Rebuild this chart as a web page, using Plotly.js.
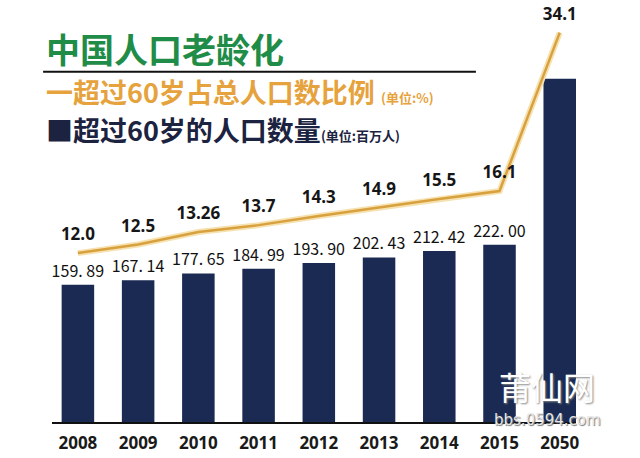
<!DOCTYPE html>
<html>
<head>
<meta charset="utf-8">
<script src="https://cdn.plot.ly/plotly-3.0.1.min.js"></script>
<style>
  html, body { margin: 0; padding: 0; background: #fff; }
  #chart { width: 640px; height: 458px; }
</style>
</head>
<body>
<div id="chart"></div>
<script>
// years on the x axis
const years = ['2008', '2009', '2010', '2011', '2012', '2013', '2014', '2015', '2050'];
// people over 60, millions (2050 has no printed label)
const popOver60 = [159.89, 167.14, 177.65, 184.99, 193.90, 202.43, 212.42, 222.00, 480];
const popLabels = ['159. 89', '167. 14', '177. 65', '184. 99', '193. 90', '202. 43', '212. 42', '222. 00', ''];
// share of total population, %
const shareOver60 = [12.0, 12.5, 13.26, 13.7, 14.3, 14.9, 15.5, 16.1, 34.1];
const shareLabels = ['12.0', '12.5', '13.26', '13.7', '14.3', '14.9', '15.5', '16.1', '34.1'];

// the infographic bars do not start at zero
const BAR_FLOOR = -53.1;

const NAVY = '#1a2a52';
const GOLD = '#d9a03e';

const bars = {
  type: 'bar',
  x: years,
  y: popOver60.map(v => v - BAR_FLOOR),
  base: BAR_FLOOR,
  marker: { color: NAVY },
  width: 0.54,
  text: popLabels,
  textposition: 'outside',
  constraintext: 'none',
  cliponaxis: false,
  textfont: { family: 'Noto Sans CJK SC, Noto Sans, sans-serif', size: 16, color: '#111' },
  hoverinfo: 'skip',
  showlegend: false
};

const glow = {
  type: 'scatter',
  x: years,
  y: shareOver60,
  yaxis: 'y2',
  mode: 'lines',
  line: { color: '#f5e2b0', width: 6 },
  hoverinfo: 'skip',
  showlegend: false
};

const shareLine = {
  type: 'scatter',
  x: years,
  y: shareOver60,
  yaxis: 'y2',
  mode: 'lines+markers+text',
  line: { color: GOLD, width: 2.5 },
  marker: { size: 12, color: 'rgba(0,0,0,0)' },
  text: shareLabels,
  textposition: 'top center',
  textfont: { family: 'Open Sans, sans-serif', size: 17, weight: 'bold', color: '#161616' },
  cliponaxis: false,
  showlegend: false
};

const cjk = 'Noto Sans CJK SC, sans-serif';

const layout = {
  width: 640,
  height: 458,
  margin: { l: 52, r: 64, t: 20, b: 36 },
  paper_bgcolor: '#fff',
  plot_bgcolor: '#fff',
  bargap: 0.46,
  xaxis: {
    type: 'category',
    range: [-0.43, 8.27],
    showline: true,
    linecolor: '#111',
    linewidth: 2,
    ticks: '',
    ticklabelstandoff: 5,
    tickfont: { family: 'Open Sans, sans-serif', size: 17, weight: 'bold', color: '#1a1a1a' },
    showgrid: false,
    zeroline: false,
    fixedrange: true
  },
  yaxis: {
    range: [BAR_FLOOR, 571.1],
    visible: false,
    showgrid: false,
    zeroline: false
  },
  yaxis2: {
    type: 'log',
    range: [0.7318, 1.5586],
    overlaying: 'y',
    visible: false,
    showgrid: false,
    zeroline: false
  },
  shapes: [
    {
      type: 'line', xref: 'paper', yref: 'paper',
      x0: -0.017, x1: 0.809, y0: 0.871, y1: 0.871,
      line: { color: '#111', width: 2 }
    }
  ],
  annotations: [
    {
      text: '中国人口老龄化',
      xref: 'paper', yref: 'paper', x: -0.016, y: 0.929,
      xanchor: 'left', yanchor: 'middle', showarrow: false,
      font: { family: cjk, size: 34, weight: 'bold', color: '#1f8c48' }
    },
    {
      text: '一超过60岁占总人口数比例 <span style="font-size:13px">(单位:%)</span>',
      xref: 'paper', yref: 'paper', x: -0.016, y: 0.821,
      xanchor: 'left', yanchor: 'middle', showarrow: false,
      font: { family: cjk, size: 27, weight: 'bold', color: '#e6a23c' }
    },
    {
      text: '■超过60岁的人口数量<span style="font-size:13px">(单位:百万人)</span>',
      xref: 'paper', yref: 'paper', x: -0.016, y: 0.727,
      xanchor: 'left', yanchor: 'middle', showarrow: false,
      font: { family: cjk, size: 27, weight: 'bold', color: '#1c2340' }
    },
    {
      text: '莆仙网',
      xref: 'paper', yref: 'paper', x: 0.945, y: 0.09,
      xanchor: 'center', yanchor: 'middle', showarrow: false,
      font: { family: cjk, size: 32, color: '#ffffff', shadow: '1px 1px 2px #888' }
    },
    {
      text: 'bbs.0594.com',
      xref: 'paper', yref: 'paper', x: 0.945, y: 0.004,
      xanchor: 'center', yanchor: 'middle', showarrow: false,
      font: { family: 'DejaVu Sans, sans-serif', size: 15, color: '#e6e6e6', shadow: '1px 1px 1px #777' }
    }
  ]
};

Plotly.newPlot('chart', [bars, glow, shareLine], layout, { displayModeBar: false, staticPlot: true });
</script>
</body>
</html>
